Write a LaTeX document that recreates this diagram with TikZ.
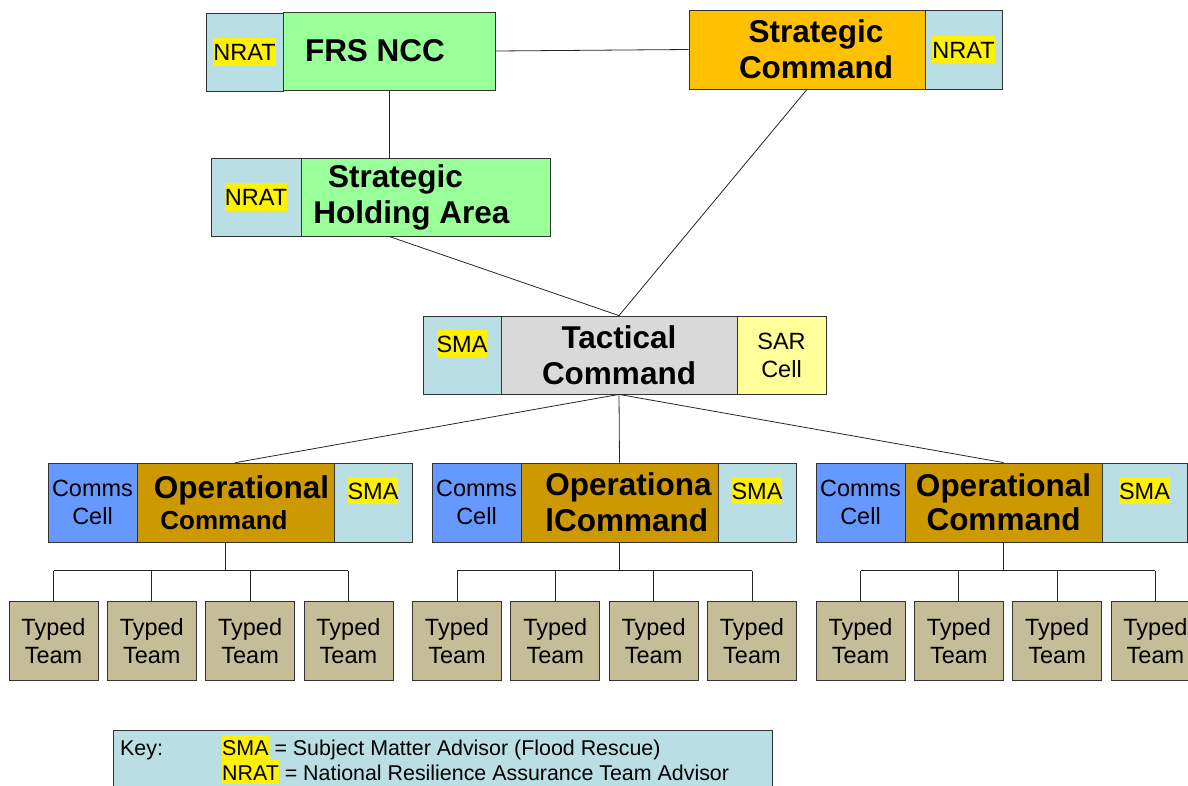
\documentclass[tikz,border=0pt]{standalone}
\usepackage{fontspec}
\setmainfont{Liberation Sans}

\definecolor{aqua}{RGB}{185,222,227}
\definecolor{nccgreen}{RGB}{153,255,153}
\definecolor{stratorange}{RGB}{255,192,0}
\definecolor{tacgrey}{RGB}{217,217,217}
\definecolor{saryellow}{RGB}{255,255,153}
\definecolor{commsblue}{RGB}{102,153,255}
\definecolor{opgold}{RGB}{204,153,0}
\definecolor{teamtan}{RGB}{196,189,151}

% yellow highlight behind advisor names
\newcommand{\hlt}[1]{{\setlength{\fboxsep}{0pt}\colorbox{yellow}{\rule[-0.2em]{0pt}{1.15em}#1}}}

\begin{document}
\begin{tikzpicture}[x=1pt,y=-1pt,
  cell/.style={draw=black!80,line width=0.8pt,inner sep=0pt,align=center,
    minimum height=79pt,font=\fontsize{23.5}{28}\selectfont},
  big/.style={cell,font=\fontsize{31.5}{36}\selectfont\bfseries},
  team/.style={cell,fill=teamtan,minimum width=89pt},
  link/.style={draw=black!85,line width=0.8pt}]

  \useasboundingbox (0,0) rectangle (1188,785);

  % top level
  \node[cell,fill=aqua,minimum width=77pt,minimum height=78pt] (nrat1) at (244.5,52) {\hlt{NRAT}};
  \node[big,fill=nccgreen,minimum width=212pt,minimum height=78pt] (ncc) at (389,51) {FRS NCC\hspace*{28pt}};
  \node[big,fill=stratorange,minimum width=236pt] (strat) at (807,49.5) {\hspace*{18pt}Strategic\\\hspace*{18pt}Command};
  \node[cell,fill=aqua,minimum width=77pt] (nrat2) at (963.5,49.5) {\hlt{NRAT}};
  \node[cell,fill=aqua,minimum width=90pt,minimum height=78pt] (nrat3) at (256,197) {\hlt{NRAT}};
  \node[big,fill=nccgreen,minimum width=249pt,minimum height=78pt] (sha) at (425.5,197) {Strategic\hspace*{60pt}\\Holding Area\hspace*{28pt}};

  % tactical
  \node[cell,fill=aqua,minimum width=78pt,minimum height=78pt] (smat) at (462,355) {\hlt{SMA}\\\mbox{}};
  \node[big,fill=tacgrey,minimum width=236pt,minimum height=78pt] (tac) at (619,355) {Tactical\\Command};
  \node[cell,fill=saryellow,minimum width=89pt,minimum height=78pt] (sar) at (781.5,355) {SAR\\Cell};

  % operational
  \foreach \g/\dx/\w in {1/0/78,2/384/78,3/768/85} {
    \node[cell,fill=commsblue,minimum width=89pt] (comms\g) at (92.5+\dx,502.5) {Comms\\Cell};
    \node[cell,fill=aqua,minimum width=\w pt] (sma\g) at (334+\dx+\w/2,502.5) {\hlt{SMA}\\\mbox{}};
  }
  \node[big,fill=opgold,minimum width=197pt,font=\fontsize{31.5}{31}\selectfont\bfseries] (op1) at (235.5,502.5)
    {\hspace*{12pt}Operational\\{\fontsize{26}{31}\selectfont Command\hspace*{23pt}}};
  \node[big,fill=opgold,minimum width=197pt,align=left] (op2) at (619.5,502.5)
    {\hspace*{18pt}Operationa\\\hspace*{18pt}lCommand};
  \node[big,fill=opgold,minimum width=197pt,font=\fontsize{31.5}{34}\selectfont\bfseries] (op3) at (1003.5,502.5)
    {Operational\\Command};

  % typed teams
  \foreach \g/\op/\dx in {0/op1/-10,1/op2/0,2/op3/0} {
    \foreach \k in {0,...,3}
      \node[team] (t\g\k) at ({53.5+403.5*\g+98.3*\k},641) {Typed\\Team};
    \coordinate (bus\g) at ([yshift=30.5pt]t\g0.north);
    \draw[link] ([xshift=\dx pt]\op.south) -- ([xshift=\dx pt]\op.south |- bus\g);
    \draw[link] (bus\g) -- ([yshift=30.5pt]t\g3.north);
    \foreach \k in {0,...,3}
      \draw[link] (t\g\k.north) -- ++(0,-30.5);
  }

  % links
  \draw[link] (ncc.east) -- (strat.west);
  \draw[link] (ncc.south) -- (ncc.south |- sha.north);
  \draw[link] (sha.south -| ncc.south) -- (tac.north);
  \draw[link] (strat.south) -- (tac.north);
  \foreach \op in {op1,op2,op3}
    \draw[link] (tac.south) -- (\op.north);

  % key
  \node[draw=black!80,fill=aqua,line width=0.8pt,minimum width=659pt,minimum height=80pt,inner sep=0pt] (key) at (442.5,770) {};
  \node[anchor=base west,inner sep=0pt,font=\fontsize{21.4}{25}\selectfont] (keyhd) at (120,755) {Key:};
  \node[anchor=base west,inner sep=0pt,font=\fontsize{21.4}{25}\selectfont] (key1) at (222,755) {\hlt{SMA} = Subject Matter Advisor (Flood Rescue)};
  \node[anchor=base west,inner sep=0pt,font=\fontsize{21.4}{25}\selectfont] (key2) at (222,780) {\hlt{NRAT} = National Resilience Assurance Team Advisor};
\end{tikzpicture}
\end{document}
